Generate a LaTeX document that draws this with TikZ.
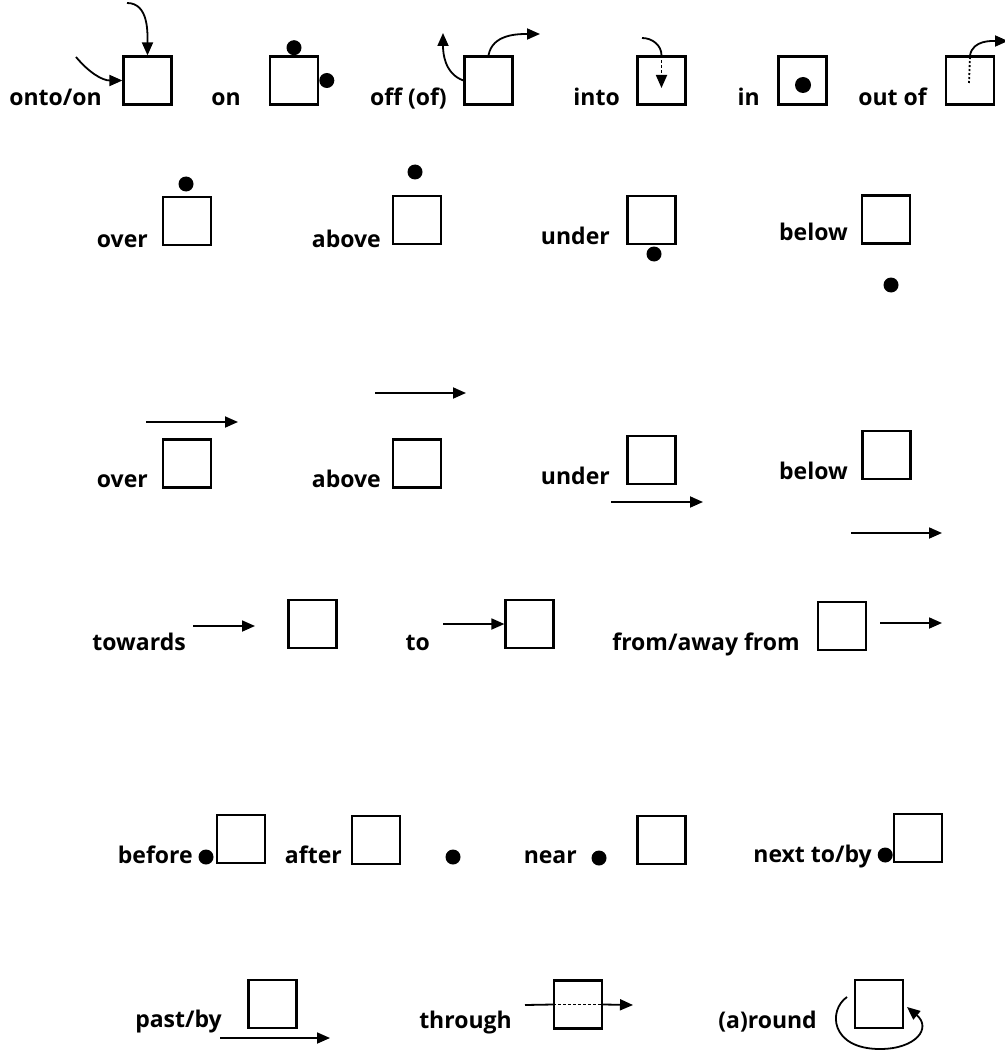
\documentclass[tikz,border=0pt]{standalone}
\usepackage{fontspec}
\setmainfont{Open Sans}
\usetikzlibrary{positioning,arrows.meta}

\begin{document}
\begin{tikzpicture}[x=1pt,y=-1pt,>={Triangle[length=13pt,width=11pt]},
  box/.style={draw,line width=2.2pt,minimum size=48pt,inner sep=0pt},
  dot/.style={circle,fill,inner sep=0pt,minimum size=15pt},
  word/.style={anchor=base east,inner sep=0pt,font=\fontsize{23}{27}\selectfont\bfseries},
  arr/.style={->,line width=1.8pt},
  thin/.style={line width=1.8pt}]
\useasboundingbox (0,0) rectangle (1004,1051);
% row 1
\node[word] (w1) at (102,106) {onto/on};
\node[box] (b1) at (147.5,80.5) {};
\coordinate (p1) at (76,57);
\coordinate (p2) at (127,3);
\draw[arr] (p1) to[out=-50,in=180] (b1.west);
\draw[arr] (p2) to[out=0,in=90] (b1.north);
\node[word] (w2) at (241,106) {on};
\node[box] (b2) at (294,80.5) {};
\node[dot,anchor=south] (d1) at (b2.north) {};
\node[dot,anchor=west] (d2) at (b2.east) {};
\node[word] (w3) at (447,106) {off (of)};
\node[box] (b3) at (488.5,80.5) {};
\coordinate (p3) at (443,33);
\coordinate (p4) at (540,34);
\draw[arr] (b3.west) to[out=160,in=-90] (p3);
\draw[arr] (b3.north) to[out=80,in=180] (p4);
\node[word] (w4) at (620,106) {into};
\node[box] (b4) at (661.5,80.5) {};
\coordinate (p5) at (642,38);
\coordinate (p6) at (661.5,88);
\draw[thin] (p5) to[out=0,in=90] (b4.north);
\draw[arr,dash pattern=on 3pt off 2pt] (b4.north) -- (p6);
\node[word] (w5) at (760,106) {in};
\node[box] (b5) at (802.5,80.5) {};
\node[dot,minimum size=16pt] (d3) at (803,85) {};
\node[word] (w6) at (927,106) {out of};
\node[box] (b6) at (970,80.5) {};
\coordinate (p7) at (969,83);
\coordinate (p8) at (1008,41);
\draw[thin,dash pattern=on 2pt off 2pt] (p7) -- (b6.north);
\draw[arr] (b6.north) to[out=80,in=180] (p8);
% row 2
\node[word] (w7) at (148,247) {over};
\node[box] (b7) at (187,221) {};
\node[dot] (d4) at (186,184) {};
\node[word] (w8) at (381,247) {above};
\node[box] (b8) at (417,220) {};
\node[dot] (d5) at (415,172) {};
\node[word] (w9) at (610,244) {under};
\node[box] (b9) at (651.5,220) {};
\node[dot] (d6) at (654,254) {};
\node[word] (w10) at (848,240) {below};
\node[box] (b10) at (886,219.5) {};
\node[dot] (d7) at (891,285) {};
% row 3
\node[word] (w11) at (148,487) {over};
\node[box] (b11) at (187,463.5) {};
\coordinate (p9) at (146,422);
\coordinate (p10) at (238,422);
\draw[arr] (p9) -- (p10);
\node[word] (w12) at (381,487) {above};
\node[box] (b12) at (417,463.5) {};
\coordinate (p11) at (375,393);
\coordinate (p12) at (466,393);
\draw[arr] (p11) -- (p12);
\node[word] (w13) at (610,484) {under};
\node[box] (b13) at (651.5,460) {};
\coordinate (p13) at (611,502);
\coordinate (p14) at (703,502);
\draw[arr] (p13) -- (p14);
\node[word] (w14) at (848,479) {below};
\node[box] (b14) at (886.5,455) {};
\coordinate (p15) at (851,533);
\coordinate (p16) at (942,533);
\draw[arr] (p15) -- (p16);
% row 4
\node[word] (w15) at (186,650) {towards};
\coordinate (p17) at (193,626);
\coordinate (p18) at (255,626);
\draw[arr] (p17) -- (p18);
\node[box] (b15) at (312.5,624) {};
\node[word] (w16) at (430,650) {to};
\node[box] (b16) at (529.5,624) {};
\coordinate (p19) at (443,624);
\draw[arr] (p19) -- (b16.west);
\node[word] (w17) at (800,650) {from/away from};
\node[box] (b17) at (842,626) {};
\coordinate (p20) at (880,623);
\coordinate (p21) at (942,623);
\draw[arr] (p20) -- (p21);
% row 5
\node[word] (w18) at (193,863) {before};
\node[dot] (d8) at (206,857) {};
\node[box] (b18) at (241,839) {};
\node[word] (w19) at (342,863) {after};
\node[box] (b19) at (376,840) {};
\node[dot] (d9) at (453,857) {};
\node[word] (w20) at (577,863) {near};
\node[dot] (d10) at (599,858) {};
\node[box] (b20) at (661.5,840) {};
\node[word] (w21) at (872,862) {next to/by};
\node[box] (b21) at (918,838) {};
\node[dot,anchor=east] (d11) at (b21.south west |- 0,855) {};
% row 6
\node[word] (w22) at (222,1027) {past/by};
\node[box] (b22) at (272.5,1004) {};
\coordinate (p22) at (220,1038);
\coordinate (p23) at (330,1038);
\draw[arr] (p22) -- (p23);
\node[word] (w23) at (512,1028) {through};
\node[box] (b23) at (578,1004.5) {};
\coordinate (p24) at (525,1005);
\coordinate (p25) at (633,1005);
\draw[thin] (p24) -- (b23.west);
\draw[thin,dash pattern=on 3pt off 2pt] (b23.west) -- (b23.east);
\draw[arr] (b23.east) -- (p25);
\node[word] (w24) at (817,1028) {(a)round};
\node[box] (b24) at (879,1004) {};
\coordinate (p26) at (847,997);
\coordinate (p27) at (907,1007);
\draw[arr] (p26) .. controls (828,1010) and (830,1049) .. (880,1049)
  .. controls (916,1049) and (932,1028) .. (p27);
\end{tikzpicture}
\end{document}
